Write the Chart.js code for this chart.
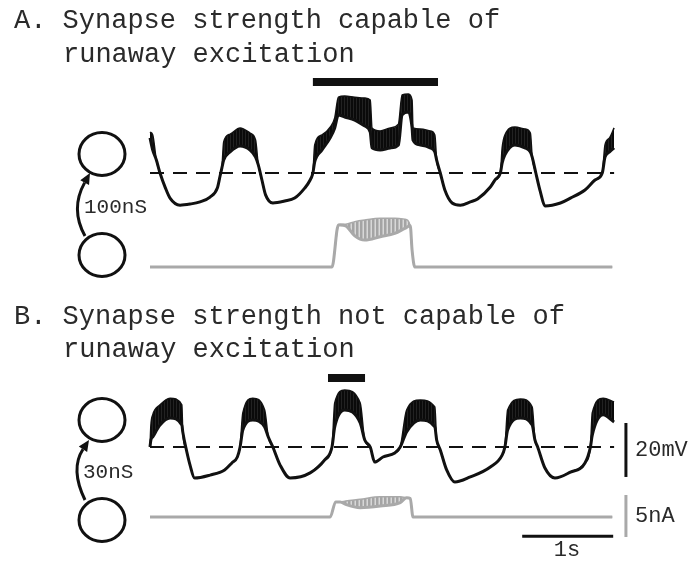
<!DOCTYPE html>
<html>
<head>
<meta charset="utf-8">
<script src="https://cdn.jsdelivr.net/npm/chart.js@4.4.1/dist/chart.umd.min.js"></script>
<style>
  html, body { margin: 0; padding: 0; background: #fff; }
  #wrap { width: 689px; height: 563px; }
</style>
</head>
<body>
<div id="wrap"><canvas id="chart" width="689" height="563"></canvas></div>
<script>
// ---- data (time in s, voltage in mV, current in nA) ----

// panel A, membrane potential: lower trace + upper envelope of the spike bursts
const timeA = [0.00,0.03,0.07,0.11,0.17,0.22,0.33,0.44,0.55,0.66,0.74,0.77,0.79,0.81,0.88,0.99,1.10,1.16,1.19,1.23,1.27,1.35,1.48,1.59,1.70,1.76,1.79,1.81,1.89,1.98,2.03,2.07,2.14,2.25,2.36,2.42,2.44,2.53,2.64,2.73,2.77,2.84,2.88,2.89,2.97,3.08,3.13,3.15,3.19,3.24,3.32,3.41,3.52,3.60,3.74,3.79,3.85,3.87,3.90,4.01,4.12,4.18,4.20,4.24,4.29,4.34,4.51,4.62,4.78,4.89,4.97,5.00,5.05,5.10];
const vLowA  = [-37.0,-41.5,-45.2,-50.0,-55.6,-59.3,-61.9,-61.5,-60.7,-58.9,-55.6,-51.1,-48.1,-45.2,-42.2,-40.0,-41.5,-44.1,-47.0,-52.6,-58.1,-61.1,-60.4,-59.3,-55.6,-52.6,-50.0,-45.9,-41.5,-37.0,-33.3,-28.5,-29.3,-30.4,-32.6,-34.8,-40.7,-41.5,-40.7,-39.6,-28.5,-27.4,-33.3,-37.8,-39.6,-40.7,-42.2,-45.2,-50.0,-56.3,-61.1,-61.9,-60.7,-59.6,-55.2,-52.6,-50.0,-46.3,-43.3,-39.6,-40.7,-42.2,-44.1,-50.0,-57.0,-62.2,-61.1,-59.3,-56.3,-52.6,-50.0,-44.1,-42.2,-40.7];
const vHighA = [-34.8,-35.9,-45.2,-50.0,-55.6,-59.3,-61.9,-61.5,-60.7,-58.9,-55.6,-51.1,-48.1,-38.5,-35.6,-33.3,-35.2,-37.8,-47.0,-52.6,-58.1,-61.1,-60.4,-59.3,-55.6,-52.6,-50.0,-39.6,-35.9,-33.0,-29.6,-21.9,-21.5,-21.9,-22.2,-23.0,-33.3,-34.4,-33.3,-31.9,-21.1,-20.7,-23.0,-33.3,-33.7,-34.4,-35.9,-45.2,-50.0,-56.3,-61.1,-61.9,-60.7,-59.6,-55.2,-52.6,-50.0,-40.7,-35.9,-33.0,-33.7,-35.2,-44.1,-50.0,-57.0,-62.2,-61.1,-59.3,-56.3,-52.6,-50.0,-39.6,-37.0,-33.3];

// panel A, current (gray)
const iTimeA = [0,2.00,2.07,2.09,2.15,2.25,2.36,2.53,2.69,2.80,2.86,2.88,2.91,5.08];
const iLowA  = [0,0,5.0,5.0,4.9,3.7,3.2,3.6,4.0,4.6,4.9,2.0,0,0];
const iHighA = [0,0,5.0,5.1,5.1,5.4,5.6,5.8,5.8,5.7,4.9,2.0,0,0];

// panel B, membrane potential
const timeB = [0.00,0.01,0.03,0.11,0.22,0.35,0.36,0.40,0.44,0.49,0.66,0.82,0.90,0.96,0.99,1.02,1.13,1.26,1.30,1.35,1.43,1.54,1.76,1.92,2.00,2.03,2.14,2.31,2.36,2.42,2.47,2.56,2.69,2.75,2.82,2.97,3.13,3.15,3.19,3.26,3.35,3.52,3.74,3.87,3.90,3.93,4.07,4.20,4.23,4.26,4.34,4.45,4.62,4.78,4.84,4.86,4.98,5.10];
const vLowB  = [-50.0,-47.4,-46.3,-41.9,-39.3,-41.9,-44.4,-51.1,-56.7,-61.5,-60.4,-58.5,-55.9,-53.7,-50.0,-43.7,-40.0,-42.6,-46.3,-50.0,-56.7,-61.5,-59.6,-54.8,-50.0,-42.6,-36.3,-41.1,-47.4,-50.0,-55.6,-53.7,-52.2,-50.0,-44.4,-40.0,-42.6,-47.4,-51.1,-58.5,-63.0,-61.1,-57.4,-53.0,-50.0,-43.7,-39.3,-41.9,-47.4,-50.0,-57.8,-61.5,-59.3,-55.9,-50.0,-45.6,-38.1,-40.7];
const vHighB = [-50.0,-41.9,-38.1,-34.4,-31.9,-34.4,-44.4,-51.1,-56.7,-61.5,-60.4,-58.5,-55.9,-53.7,-50.0,-37.4,-31.9,-36.3,-46.3,-50.0,-56.7,-61.5,-59.6,-54.8,-50.0,-33.7,-28.9,-33.7,-47.4,-50.0,-55.6,-53.7,-52.2,-50.0,-36.3,-32.6,-35.2,-47.4,-51.1,-58.5,-63.0,-61.1,-57.4,-53.0,-50.0,-36.3,-32.2,-35.2,-47.4,-50.0,-57.8,-61.5,-59.3,-55.9,-50.0,-37.4,-31.9,-33.3];

// panel B, current (gray)
const iTimeB = [0,1.98,2.04,2.09,2.15,2.31,2.53,2.75,2.82,2.86,2.89,5.08];
const iLowB  = [0,0,1.8,1.8,1.5,1.1,1.3,1.7,2.3,2.2,0,0];
const iHighB = [0,0,1.8,1.8,1.9,2.1,2.4,2.4,2.3,2.2,0,0];

const thresholdMV = -50;
const traceSpan = [0, 5.1];
const stimA = [1.79, 3.165];   // black bar above panel A
const stimB = [1.956, 2.363];  // black bar above panel B
const scaleMV = 20, scaleNA = 5, scaleS = 1;

// ---- layout: where things sit on the page ----
const W = 689, H = 563;
const X0_PX = 150, PX_PER_S = 91;
const PX_PER_MV = 2.7, PX_PER_NA = 8.4;
function range(anchorPx, anchorVal, pxPerUnit) {
  return { min: anchorVal - (H - anchorPx) / pxPerUnit, max: anchorVal + anchorPx / pxPerUnit };
}
const rVA = range(173, thresholdMV, PX_PER_MV);
const rIA = range(267, 0, PX_PER_NA);
const rVB = range(447, thresholdMV, PX_PER_MV);
const rIB = range(517, 0, PX_PER_NA);

const BLACK = '#111';
const GRAY = '#a9a9a9';

// striped fill so the burst bands look like packed spikes
function stripes(a, b, period, wa) {
  const cv = document.createElement('canvas');
  cv.width = period; cv.height = 4;
  const g = cv.getContext('2d');
  g.fillStyle = b; g.fillRect(0, 0, period, 4);
  g.fillStyle = a; g.fillRect(0, 0, wa, 4);
  return g.createPattern(cv, 'repeat');
}
const blackFill = stripes('#0a0a0a', '#222', 3, 2);
const grayFill = stripes('#a4a4a4', '#d8d8d8', 4, 2.5);

function pts(xs, ys) { return xs.map((x, i) => ({ x: x, y: ys[i] })); }

function trace(xs, lo, hi, axis, color, fillStyle, w) {
  return [
    { data: pts(xs, lo), yAxisID: axis, borderColor: color, borderWidth: w, fill: false,
      cubicInterpolationMode: 'monotone' },
    { data: pts(xs, hi), yAxisID: axis, borderColor: color, borderWidth: 1.5, fill: '-1',
      backgroundColor: fillStyle, cubicInterpolationMode: 'monotone' }
  ];
}
function hline(t, y, axis, color, w, dash) {
  return { data: [{ x: t[0], y: y }, { x: t[1], y: y }], yAxisID: axis, borderColor: color,
           borderWidth: w, borderDash: dash || [], borderCapStyle: 'butt', fill: false };
}
function vline(t, y0, y1, axis, color, w) {
  return { data: [{ x: t, y: y0 }, { x: t, y: y1 }], yAxisID: axis, borderColor: color,
           borderWidth: w, borderCapStyle: 'butt', fill: false };
}

const barT = 5.23; // time position of the vertical scale bars
const datasets = [].concat(
  trace(timeA, vLowA, vHighA, 'yVA', BLACK, blackFill, 3),
  trace(iTimeA, iLowA, iHighA, 'yIA', GRAY, grayFill, 3),
  trace(timeB, vLowB, vHighB, 'yVB', BLACK, blackFill, 3),
  trace(iTimeB, iLowB, iHighB, 'yIB', GRAY, grayFill, 3),
  [
    hline(traceSpan, thresholdMV, 'yVA', BLACK, 2, [14, 9]),
    hline(traceSpan, thresholdMV, 'yVB', BLACK, 2, [14, 9]),
    hline(stimA, -16.3, 'yVA', BLACK, 8),
    hline(stimB, -24.4, 'yVB', BLACK, 8),
    vline(barT, -61.1, -61.1 + scaleMV, 'yVB', BLACK, 3),
    vline(barT, -2.38, -2.38 + scaleNA, 'yIB', GRAY, 3),
    hline([5.09 - scaleS, 5.09], -2.3, 'yIB', BLACK, 3)
  ]
);

// schematic cells, arrows and text
const decor = {
  id: 'decor',
  afterDatasetsDraw(chart) {
    const c = chart.ctx;
    c.save();
    c.fillStyle = '#2a2a2a';
    c.textBaseline = 'alphabetic';
    c.font = '27px "Liberation Mono", "Courier New", monospace';
    c.fillText('A. Synapse strength capable of', 14, 28);
    c.fillText('runaway excitation', 63, 62);
    c.fillText('B. Synapse strength not capable of', 14, 324);
    c.fillText('runaway excitation', 63, 357);

    c.font = '21px "Liberation Mono", "Courier New", monospace';
    c.fillText('100nS', 84, 213);
    c.fillText('30nS', 83, 478);
    c.font = '22px "Liberation Mono", "Courier New", monospace';
    c.fillText('20mV', 635, 456);
    c.fillText('5nA', 635, 522);
    c.textAlign = 'center';
    c.fillText('1s', 567, 556);

    c.strokeStyle = BLACK;
    c.lineWidth = 3;
    [[102, 154], [102, 255], [102, 420], [102, 520]].forEach(([x, y]) => {
      c.beginPath();
      c.ellipse(x, y, 23, 21.5, 0, 0, Math.PI * 2);
      c.stroke();
    });

    function arrow(x0, y0, cx, cy, x1, y1) {
      const ang = Math.atan2(y1 - cy, x1 - cx);
      const L = 11, hw = 5;
      const bx = x1 - L * Math.cos(ang), by = y1 - L * Math.sin(ang);
      c.beginPath();
      c.moveTo(x0, y0);
      c.quadraticCurveTo(cx, cy, bx, by);
      c.lineWidth = 3;
      c.stroke();
      c.beginPath();
      c.moveTo(x1, y1);
      c.lineTo(bx + hw * Math.sin(ang), by - hw * Math.cos(ang));
      c.lineTo(bx - hw * Math.sin(ang), by + hw * Math.cos(ang));
      c.closePath();
      c.fillStyle = BLACK;
      c.fill();
    }
    arrow(85, 236, 70, 209, 90, 173);
    arrow(85, 500, 70, 469, 89, 440);
    c.restore();
  }
};

const yAxis = r => ({ type: 'linear', display: false, min: r.min, max: r.max });

new Chart(document.getElementById('chart'), {
  type: 'line',
  data: { datasets: datasets },
  options: {
    responsive: false,
    animation: false,
    layout: { padding: 0 },
    elements: { point: { radius: 0 }, line: { tension: 0 } },
    scales: {
      x: { type: 'linear', display: false, min: -X0_PX / PX_PER_S, max: (W - X0_PX) / PX_PER_S },
      yVA: yAxis(rVA),
      yIA: yAxis(rIA),
      yVB: yAxis(rVB),
      yIB: yAxis(rIB)
    },
    plugins: { legend: { display: false }, tooltip: { enabled: false } }
  },
  plugins: [decor]
});
</script>
</body>
</html>
